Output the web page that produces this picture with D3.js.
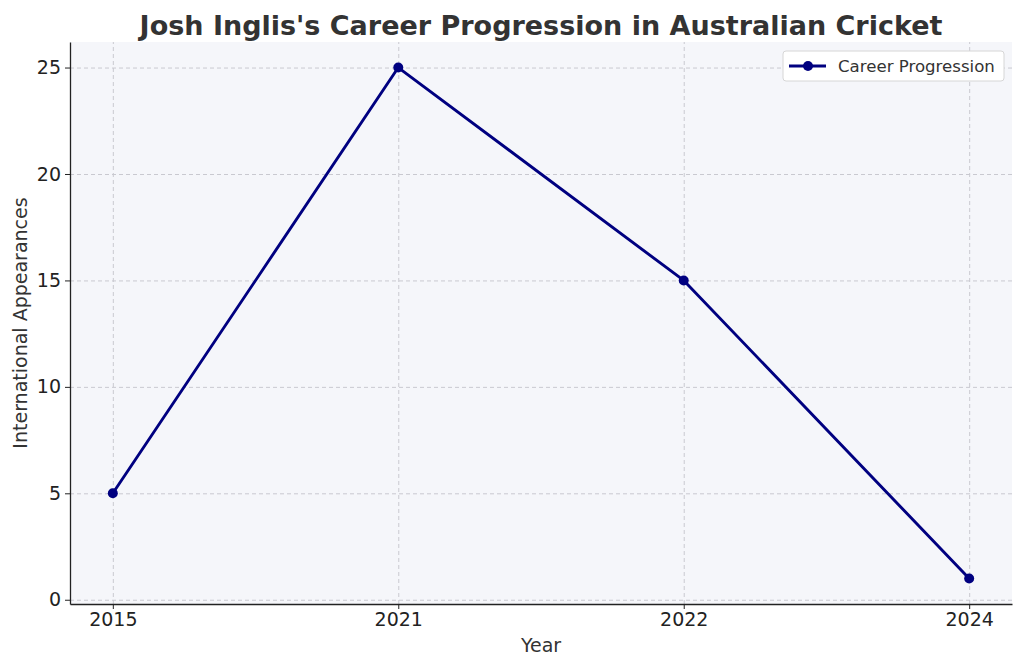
<!DOCTYPE html>
<meta charset="utf-8">
<title>Josh Inglis's Career Progression</title>
<script src="https://d3js.org/d3.v7.min.js"></script>
<style>
  body { margin: 0; background: #fff; }
  text { font-family: "DejaVu Sans", sans-serif; }
  .tick text { font-size: 19px; fill: #222; }
  .grid line { stroke: #c9c9d0; stroke-dasharray: 4,3; stroke-width: 1; }
  .grid path { display: none; }
</style>
<div id="chart"></div>
<script>
// chart data
var years = ["2015", "2021", "2022", "2024"];
var appearances = [5, 25, 15, 1];
var yTicks = [0, 5, 10, 15, 20, 25];

var W = 1024, H = 669;
var margin = {top: 42, right: 12, bottom: 65, left: 70};
var width = W - margin.left - margin.right,
    height = H - margin.top - margin.bottom;

var svg = d3.select("#chart").append("svg")
    .attr("width", W)
    .attr("height", H);

var g = svg.append("g")
    .attr("transform", "translate(" + margin.left + "," + margin.top + ")");

// plot background
g.append("rect")
  .attr("width", width)
  .attr("height", height)
  .attr("fill", "#f5f6fa");

var x = d3.scalePoint()
    .domain(years)
    .range([0, width])
    .padding(0.15);

var y = d3.scaleLinear()
    .domain([-0.2, 26.2])
    .range([height, 0]);

// grid
g.append("g")
  .attr("class", "grid")
  .call(d3.axisLeft(y).tickValues(yTicks).tickSize(-width).tickFormat(""));
g.append("g")
  .attr("class", "grid")
  .attr("transform", "translate(0," + height + ")")
  .call(d3.axisBottom(x).tickSize(-height).tickFormat(""));

// axes
var xAxis = g.append("g")
  .attr("transform", "translate(0," + height + ")")
  .call(d3.axisBottom(x).tickSizeInner(5).tickSizeOuter(0).tickPadding(4));
var yAxis = g.append("g")
  .call(d3.axisLeft(y).tickValues(yTicks).tickSizeInner(5).tickSizeOuter(0).tickPadding(4));
[xAxis, yAxis].forEach(function(a) {
  a.select(".domain").attr("stroke", "#222").attr("stroke-width", 1.3);
  a.selectAll(".tick line").attr("stroke", "#222").attr("stroke-width", 1);
  a.selectAll(".tick text").attr("font-family", null).attr("font-size", null);
});

// line
var line = d3.line()
    .x(function(d, i) { return x(years[i]); })
    .y(function(d) { return y(d); });

g.append("path")
  .datum(appearances)
  .attr("d", line)
  .attr("fill", "none")
  .attr("stroke", "#000080")
  .attr("stroke-width", 2.9)
  .attr("stroke-linejoin", "round");

g.selectAll(".dot")
  .data(appearances)
  .enter().append("circle")
  .attr("cx", function(d, i) { return x(years[i]); })
  .attr("cy", function(d) { return y(d); })
  .attr("r", 5)
  .attr("fill", "#000080");

// title and labels
svg.append("text")
  .attr("x", margin.left + width / 2)
  .attr("y", 35)
  .attr("text-anchor", "middle")
  .style("font-size", "27px")
  .style("font-weight", "bold")
  .style("fill", "#333")
  .text("Josh Inglis's Career Progression in Australian Cricket");

svg.append("text")
  .attr("x", margin.left + width / 2)
  .attr("y", 652)
  .attr("text-anchor", "middle")
  .style("font-size", "19px")
  .style("fill", "#333")
  .text("Year");

svg.append("text")
  .attr("transform", "translate(27," + (margin.top + height / 2) + ")rotate(-90)")
  .attr("text-anchor", "middle")
  .style("font-size", "19px")
  .style("fill", "#333")
  .text("International Appearances");

// legend
var lg = svg.append("g").attr("transform", "translate(783,51)");
lg.append("rect")
  .attr("width", 221)
  .attr("height", 30)
  .attr("rx", 3)
  .attr("fill", "#fff")
  .attr("stroke", "#d6d6d6");
lg.append("line")
  .attr("x1", 6).attr("x2", 43)
  .attr("y1", 15).attr("y2", 15)
  .attr("stroke", "#000080")
  .attr("stroke-width", 2.9);
lg.append("circle")
  .attr("cx", 25).attr("cy", 15).attr("r", 5)
  .attr("fill", "#000080");
lg.append("text")
  .attr("x", 55)
  .attr("y", 21)
  .style("font-size", "16.6px")
  .style("fill", "#333")
  .text("Career Progression");
</script>
